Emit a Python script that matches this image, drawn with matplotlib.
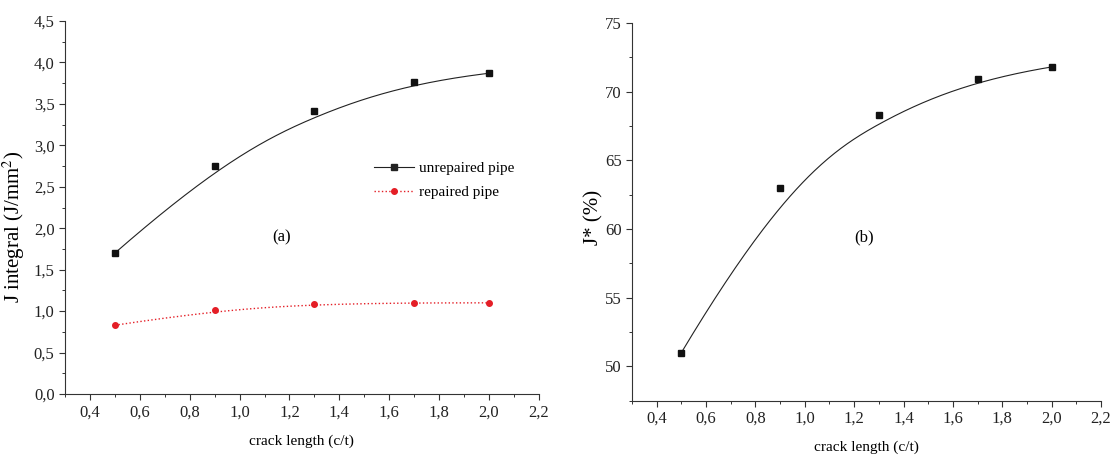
import matplotlib
matplotlib.use("Agg")
import matplotlib.pyplot as plt
import numpy as np
from matplotlib.ticker import MultipleLocator, FuncFormatter

# crack length (c/t)
crack = [0.5, 0.9, 1.3, 1.7, 2.0]
# J integral (J/mm2)
j_unrepaired = [1.70, 2.75, 3.41, 3.76, 3.87]
j_repaired = [0.83, 1.01, 1.09, 1.10, 1.10]
# J* (%)
j_star = [51.0, 63.0, 68.3, 70.9, 71.8]

plt.rcParams['font.family'] = ['Liberation Serif', 'DejaVu Serif']
plt.rcParams['mathtext.fontset'] = 'stix'

RED = '#e41e26'


def comma(fmt):
    return FuncFormatter(lambda v, p: (fmt % v).replace('.', ','))


def basis(i, k, t, knots):
    # Cox-de Boor recursion
    if k == 0:
        last = knots[i + 1] == knots[-1] and knots[i] < knots[i + 1]
        if last:
            return ((t >= knots[i]) & (t <= knots[i + 1])).astype(float)
        return ((t >= knots[i]) & (t < knots[i + 1])).astype(float)
    out = np.zeros_like(t)
    d1 = knots[i + k] - knots[i]
    d2 = knots[i + k + 1] - knots[i + 1]
    if d1 > 0:
        out += (t - knots[i]) / d1 * basis(i, k - 1, t, knots)
    if d2 > 0:
        out += (knots[i + k + 1] - t) / d2 * basis(i + 1, k - 1, t, knots)
    return out


def bspline(x, y, deg=3):
    # clamped B-spline using the data points as control points (Origin style)
    x = np.asarray(x, float)
    y = np.asarray(y, float)
    n = len(x)
    inner = list(np.linspace(0, 1, n - deg + 1)[1:-1])
    knots = [0.0] * (deg + 1) + inner + [1.0] * (deg + 1)
    t = np.linspace(0, 1, 300)
    B = np.array([basis(i, deg, t, knots) for i in range(n)])
    return B.T @ x, B.T @ y


def style_axis(ax):
    ax.spines['top'].set_visible(False)
    ax.spines['right'].set_visible(False)
    for s in ('left', 'bottom'):
        ax.spines[s].set_linewidth(0.8)
        ax.spines[s].set_color('#333333')
    ax.tick_params(which='major', direction='out', length=4, width=0.8,
                   labelsize=12, colors='#333333', labelcolor='#222222')
    ax.tick_params(which='minor', direction='out', length=2.5, width=0.7,
                   colors='#333333')
    ax.xaxis.set_major_locator(MultipleLocator(0.2))
    ax.xaxis.set_minor_locator(MultipleLocator(0.1))
    ax.xaxis.set_major_formatter(comma('%.1f'))
    ax.set_xlim(0.3, 2.2)
    ax.set_xlabel('crack length (c/t)', fontsize=11, labelpad=10)


fig = plt.figure(figsize=(11.16, 4.58), dpi=100)

# (a) J integral
ax1 = fig.add_axes([0.0582, 0.1397, 0.4247, 0.8144])
style_axis(ax1)
xs, ys = bspline(crack, j_unrepaired)
ax1.plot(xs, ys, color='#222222', lw=0.8)
ax1.plot(crack, j_unrepaired, 's', color='#111111', ms=4)
xs, ys = bspline(crack, j_repaired)
ax1.plot(xs, ys, ':', color=RED, lw=1.0)
ax1.plot(crack, j_repaired, 'o', color=RED, ms=4)
ax1.plot([], [], '-s', color='#222222', lw=0.8, ms=4, label='unrepaired pipe')
ax1.plot([], [], ':o', color=RED, lw=1.0, ms=4, label='repaired pipe')
ax1.set_ylim(0, 4.5)
ax1.yaxis.set_major_locator(MultipleLocator(0.5))
ax1.yaxis.set_minor_locator(MultipleLocator(0.25))
ax1.yaxis.set_major_formatter(comma('%.1f'))
ax1.set_ylabel('J integral (J/mm$^2$)', fontsize=15)
ax1.yaxis.set_label_coords(-0.080, 0.448)
ax1.text(1.17, 1.89, '(a)', fontsize=12, ha='center', va='center')
ax1.legend(loc='upper left', bbox_to_anchor=(0.64, 0.64), frameon=False,
           fontsize=11, handlelength=2.6, handletextpad=0.3, labelspacing=0.7,
           borderaxespad=0)

# (b) J*
ax2 = fig.add_axes([0.5663, 0.1251, 0.4203, 0.8247])
style_axis(ax2)
xs, ys = bspline(crack, j_star)
ax2.plot(xs, ys, color='#222222', lw=0.8)
ax2.plot(crack, j_star, 's', color='#111111', ms=5)
ax2.set_ylim(47.5, 75)
ax2.yaxis.set_major_locator(MultipleLocator(5))
ax2.yaxis.set_minor_locator(MultipleLocator(2.5))
ax2.set_ylabel('J* (%)', fontsize=15)
ax2.yaxis.set_label_coords(-0.060, 0.486)
ax2.text(1.24, 59.4, '(b)', fontsize=12, ha='center', va='center')

fig.savefig('out.png', dpi=100)
